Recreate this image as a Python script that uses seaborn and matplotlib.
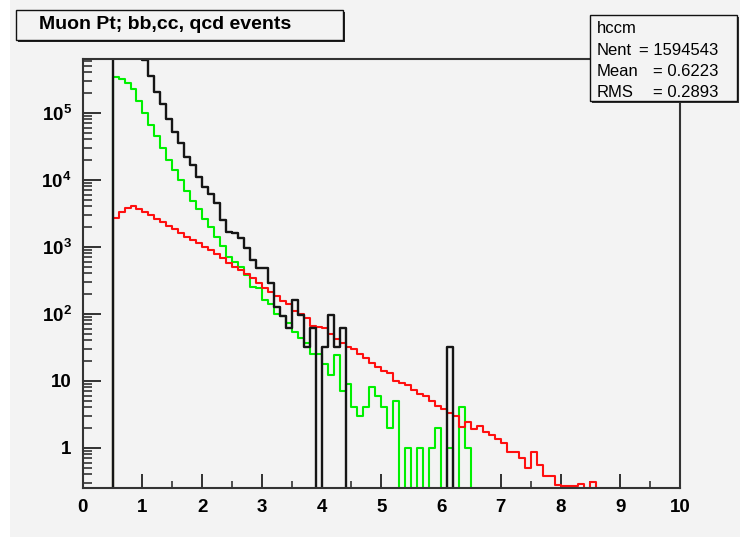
"""
Muon Pt spectra for bb, cc and qcd samples (ROOT style canvas)
"""
import numpy as np
import pandas as pd
import matplotlib
matplotlib.use('Agg')
import matplotlib.pyplot as plt
import seaborn as sns
from matplotlib.patches import Rectangle
from matplotlib.ticker import MultipleLocator, FuncFormatter, LogLocator, NullFormatter

# binning: 100 bins of 0.1 between 0 and 10, first filled bin starts at 0.5
n_bins = 100
x_lo, x_hi = 0.0, 10.0
first_bin = 5

# black histogram (weighted), bins from pt = 0.5
black_vals = [3.0e6, 2.5e6, 2.0e6, 1.5e6, 1.0e6, 612000, 357000, 206000, 133000, 79600,
              52000, 35600, 22000, 16600, 11100, 7870, 6120, 4540, 2510, 1660,
              1580, 1370, 966, 632, 486, 476, 284, 127, 92, 61,
              160, 96, 31.6, 62, 0, 31.6, 95, 31.6, 62, 0,
              0, 0, 0, 0, 0, 0, 0, 0, 0, 0,
              0, 0, 0, 0, 0, 0, 31.6]

# green histogram, bins from pt = 0.5
green_vals = [337000, 321000, 280000, 223000, 151000, 100000, 65500, 44800, 29400, 19900,
              14200, 10000, 6850, 4860, 3620, 2610, 1980, 1410, 1020, 709,
              597, 503, 378, 250, 238, 160, 139, 98, 92, 72,
              54, 44, 37, 25, 25, 18, 12, 24, 7, 9,
              4, 3, 4, 8, 6, 4, 2, 5, 0, 1,
              0, 1, 0, 1, 2, 0, 1, 0, 4, 1]

# red histogram, bins from pt = 0.5
red_vals = [2650, 3330, 3820, 4090, 3650, 3330, 2970, 2590, 2310, 2060,
            1840, 1580, 1410, 1260, 1120, 1000, 893, 770, 671, 577,
            503, 449, 387, 338, 284, 246, 213, 184, 155, 140,
            110, 99, 85, 65, 64, 60.5, 49, 41.5, 36.9, 32.2,
            29.4, 24.8, 22.0, 18.2, 16.2, 14.1, 13.2, 9.9, 9.2, 8.7,
            7.3, 6.3, 5.9, 5.0, 4.15, 3.84, 3.26, 2.97, 2.06, 2.38,
            1.88, 2.09, 1.70, 1.56, 1.33, 1.16, 0.85, 0.85, 0.695, 0.50,
            0.87, 0.55, 0.38, 0.38, 0.277, 0.271, 0.271, 0.271, 0.284, 0,
            0.305]

title_text = 'Muon Pt; bb,cc, qcd events'
stats_name = 'hccm'
stats_rows = [('Nent', '= 1594543'), ('Mean', '= 0.6223'), ('RMS', '= 0.2893')]

bg = '#f3f3f3'
plt.rcParams['font.family'] = ['Liberation Sans', 'DejaVu Sans']
plt.rcParams['mathtext.fontset'] = 'custom'
plt.rcParams['mathtext.rm'] = 'Liberation Sans:bold'
plt.rcParams['mathtext.it'] = 'Liberation Sans:bold'
plt.rcParams['mathtext.bf'] = 'Liberation Sans:bold'


def full_hist(vals):
    h = np.zeros(n_bins)
    h[first_bin:first_bin + len(vals)] = vals
    return h


edges = np.linspace(x_lo, x_hi, n_bins + 1)
centers = 0.5 * (edges[:-1] + edges[1:])

fig = plt.figure(figsize=(7.4, 5.37), dpi=100, facecolor=bg)
fig.add_artist(Rectangle((0, 0), 10 / 740, 1, transform=fig.transFigure,
                         facecolor='white', edgecolor='none', zorder=0))
ax = fig.add_axes([0.1118, 0.0912, 0.8071, 0.7989])
ax.set_facecolor(bg)

# green and red first, black on top (its edge at 0.5 hides the others)
for vals, col, lw, z in [(green_vals, '#00f000', 1.5, 2),
                         (red_vals, '#ff1010', 1.5, 2.1),
                         (black_vals, '#151515', 1.7, 3)]:
    df = pd.DataFrame({'pt': centers, 'w': full_hist(vals)})
    sns.histplot(data=df, x='pt', weights='w', bins=list(edges), element='step',
                 fill=False, color=col, linewidth=lw, zorder=z, ax=ax)

ax.set_yscale('log')
ax.set_xlim(x_lo, x_hi)
ax.set_ylim(0.25, 6.33e5)
ax.set_xlabel('')
ax.set_ylabel('')
ax.xaxis.label.set_visible(False)
ax.yaxis.label.set_visible(False)

for s in ax.spines.values():
    s.set_color('#333333')
    s.set_linewidth(1.5)
    s.set_zorder(4)

ax.xaxis.set_major_locator(MultipleLocator(1))
ax.xaxis.set_minor_locator(MultipleLocator(0.5))
ax.yaxis.set_major_locator(LogLocator(base=10, numticks=20))
ax.yaxis.set_minor_locator(LogLocator(base=10, subs=np.arange(2, 10), numticks=20))
ax.yaxis.set_minor_formatter(NullFormatter())


def ylab(v, pos):
    e = int(round(np.log10(v)))
    if e == 0:
        return '1'
    if e == 1:
        return '10'
    return r'$10^{%d}$' % e


ax.yaxis.set_major_formatter(FuncFormatter(ylab))
ax.tick_params(axis='y', which='major', direction='in', length=13, width=1.3,
               pad=8, color='#222222')
ax.tick_params(axis='y', which='minor', direction='in', length=6.5, width=1.1,
               color='#222222')
ax.tick_params(axis='x', which='major', direction='in', length=10, width=1.3,
               pad=8, color='#222222')
ax.tick_params(axis='x', which='minor', direction='in', length=5, width=1.1,
               color='#222222')
for lab in ax.get_xticklabels() + ax.get_yticklabels():
    lab.set_fontsize(13.5)
    lab.set_fontweight('bold')

# title box with shadow
fig.add_artist(Rectangle((18 / 740, 1 - 42 / 537), 327 / 740, 30 / 537,
                         transform=fig.transFigure, facecolor='#222222',
                         edgecolor='none', zorder=5))
fig.add_artist(Rectangle((16 / 740, 1 - 39.5 / 537), 327 / 740, 30 / 537,
                         transform=fig.transFigure, facecolor=bg,
                         edgecolor='#111111', linewidth=1, zorder=6))
fig.text(39 / 740, 1 - 24.5 / 537, title_text, fontsize=14, fontweight='bold',
         ha='left', va='center', zorder=7)

# stats box with shadow
fig.add_artist(Rectangle((592 / 740, 1 - 103 / 537), 147 / 740, 86 / 537,
                         transform=fig.transFigure, facecolor='#333333',
                         edgecolor='none', zorder=5))
fig.add_artist(Rectangle((590 / 740, 1 - 101 / 537), 147 / 740, 86 / 537,
                         transform=fig.transFigure, facecolor=bg,
                         edgecolor='#111111', linewidth=1, zorder=6))
fig.text(597 / 740, 1 - 33.3 / 537, stats_name, fontsize=12, ha='left',
         va='baseline', zorder=7)
for i, (name, val) in enumerate(stats_rows):
    yb = 1 - (55 + 20.9 * i) / 537
    fig.text(597 / 740, yb, name, fontsize=12, ha='left', va='baseline', zorder=7)
    fig.text(718 / 740, yb, val, fontsize=12, ha='right', va='baseline', zorder=7)

fig.savefig('out.png', dpi=100, facecolor=bg)
